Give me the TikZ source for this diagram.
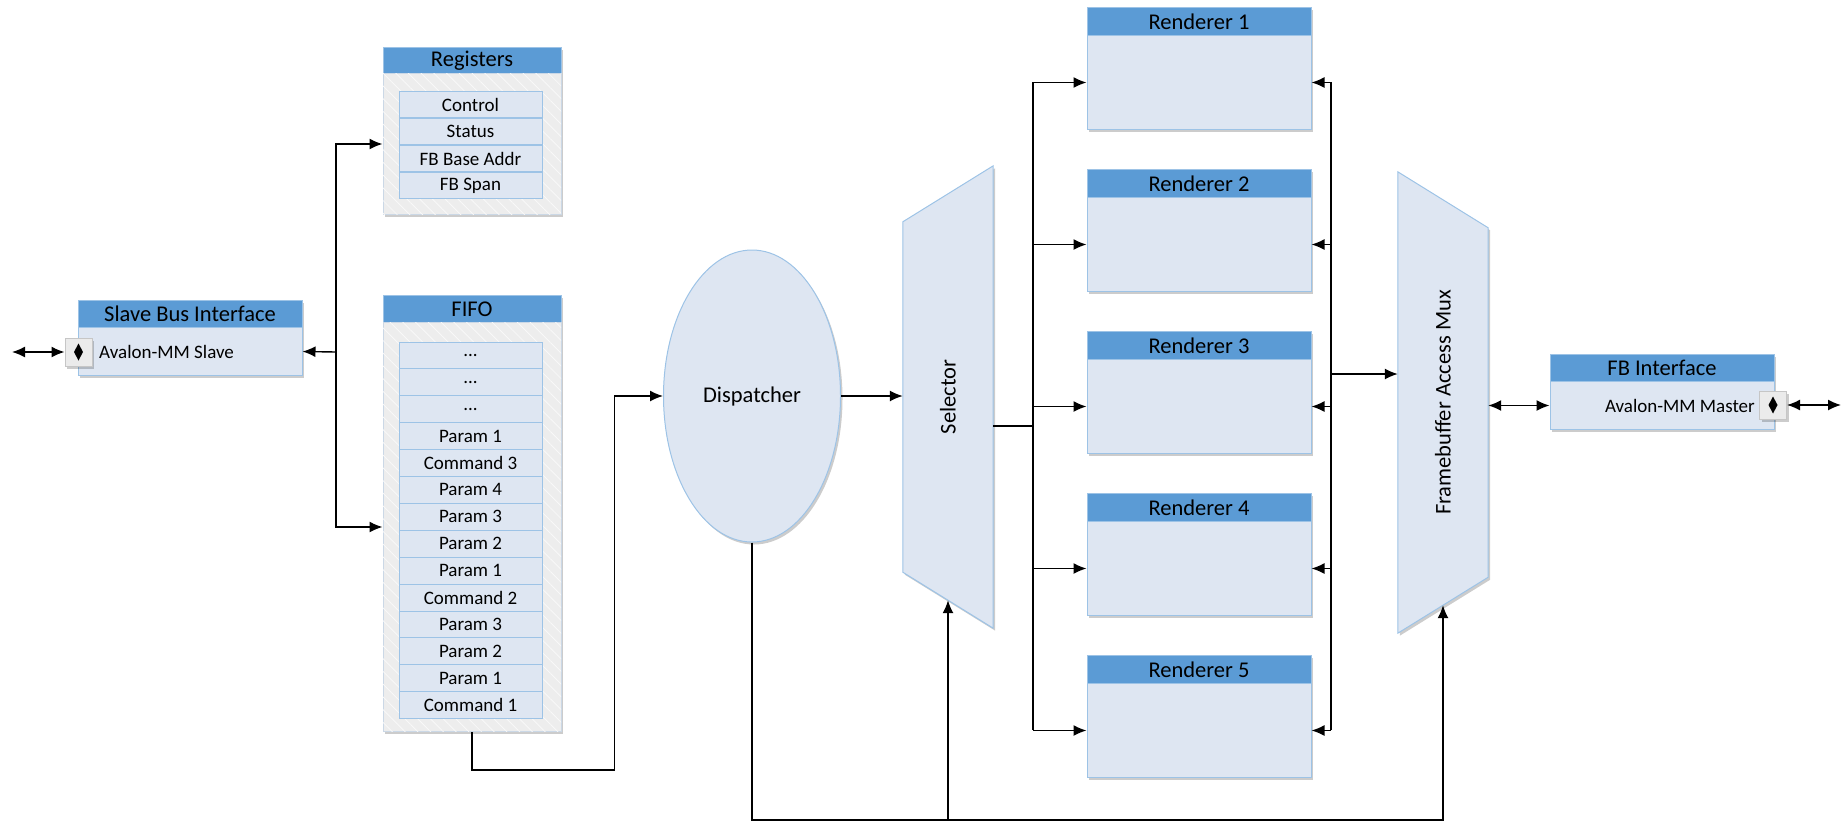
\documentclass[tikz,border=0pt]{standalone}
\usepackage{fontspec}
\setmainfont{Carlito}
\usetikzlibrary{arrows.meta,shadows,calc,shapes.geometric,backgrounds,patterns.meta}
\definecolor{hdrblue}{HTML}{5B9BD5}
\definecolor{bodyblue}{HTML}{DEE6F2}
\definecolor{edgeblue}{HTML}{9DC3E6}
\definecolor{cgray}{HTML}{EDEDED}
\definecolor{cedge}{HTML}{CBD8E6}
\definecolor{pgray}{HTML}{EBEBEB}
\begin{document}
\begin{tikzpicture}[x=1pt,y=-1pt,
  font=\fontsize{19}{22}\selectfont,
  shd/.style={drop shadow={shadow xshift=2pt,shadow yshift=-2.5pt,opacity=0.2,fill=black}},
  hdr/.style={draw=edgeblue,fill=hdrblue,line width=1pt,inner sep=0pt,anchor=north,font=\fontsize{22.5}{26}\selectfont,shd},
  body/.style={draw=edgeblue,fill=bodyblue,line width=1pt,inner sep=0pt,anchor=north,shd},
  cbody/.style={draw=cedge,fill=cgray,line width=1pt,inner sep=0pt,anchor=north,shd,
     postaction={pattern={Lines[angle=-45,distance=9pt,line width=0.7pt]},pattern color=white!70!cgray}},
  rowbox/.style={draw=edgeblue,fill=bodyblue,line width=1pt,inner sep=0pt,minimum width=143pt,minimum height=26.9pt},
  port/.style={draw=gray!45,fill=pgray,line width=1pt,minimum width=27pt,minimum height=28pt,inner sep=0pt,shd},
  arr/.style={-{Latex[length=13pt,width=11pt]},line width=1.4pt},
  darr/.style={{Latex[length=13pt,width=11pt]}-{Latex[length=13pt,width=11pt]},line width=1.4pt},
  ln/.style={line width=1.4pt},
  big/.style={font=\fontsize{22.5}{26}\selectfont}
]
\useasboundingbox (0,0) rectangle (1847,823);

% ---------- Slave Bus Interface ----------
\node[hdr,minimum width=224pt,minimum height=27pt] (sbh) at (190,300) {Slave Bus Interface};
\node[body,minimum width=224pt,minimum height=48pt] (sb) at (190,327) {};
\node[anchor=west,inner sep=0pt] (sbtxt) at (99,352) {Avalon-MM Slave};
\node[port] (sport) at (78.5,352) {};
\fill (sport.center) ++(0,-8.5) -- ++(4.5,8.5) -- ++(-4.5,8.5) -- ++(-4.5,-8.5) -- cycle;

% ---------- Registers ----------
\node[hdr,minimum width=178pt,minimum height=26pt] (regh) at (472,47) {Registers};
\node[cbody,minimum width=178pt,minimum height=141pt] (regs) at (472,73) {};
\foreach \t [count=\i from 0] in {Control,Status,FB Base Addr,FB Span}
  \node[rowbox] (reg\i) at (470.5,104.5+27*\i) {\t};

% ---------- FIFO ----------
\node[hdr,minimum width=178pt,minimum height=27pt] (fifoh) at (472,295) {FIFO};
\node[cbody,minimum width=178pt,minimum height=409pt] (fifo) at (472,322) {};
\node[rowbox] (ffa) at (470.5,355.45) {...};
\node[rowbox] (ffb) at (470.5,382.35) {...};
\node[rowbox] (ffc) at (470.5,409.25) {...};
\foreach \t [count=\i from 3] in {Param 1,Command 3,Param 4,Param 3,Param 2,Param 1,Command 2,Param 3,Param 2,Param 1,Command 1}
  \node[rowbox] (ff\i) at (470.5,355.45+26.9*\i) {\t};

% ---------- Dispatcher ----------
\node[ellipse,draw=edgeblue,fill=bodyblue,line width=1pt,minimum width=177pt,minimum height=292pt,inner sep=0pt,shd,big] (disp) at (752,396) {Dispatcher};

% ---------- Selector ----------
\node[minimum width=90pt,minimum height=350pt,inner sep=0pt,big] (sel) at (948,397) {\rotatebox{90}{Selector}};
\begin{scope}[on background layer]
\draw[draw=edgeblue,fill=bodyblue,line width=1pt,shd] (sel.south west) -- (sel.north west) -- ($(sel.north east)+(0,-56)$) -- ($(sel.south east)+(0,56)$) -- cycle;
\end{scope}

% ---------- Renderers ----------
\foreach \i in {1,...,5}{
  \node[hdr,minimum width=224pt,minimum height=28pt] (r\i h) at (1199,{7+162*(\i-1)}) {Renderer \i};
  \node[body,minimum width=224pt,minimum height=94pt] (r\i) at (1199,{35+162*(\i-1)}) {};
}

% ---------- Framebuffer Access Mux ----------
\node[minimum width=90pt,minimum height=349pt,inner sep=0pt,big] (mux) at (1443,402.5) {\rotatebox{90}{Framebuffer Access Mux}};
\begin{scope}[on background layer]
\draw[draw=edgeblue,fill=bodyblue,line width=1pt,shd] ($(mux.north west)+(0,-56)$) -- (mux.north east) -- (mux.south east) -- ($(mux.south west)+(0,56)$) -- cycle;
\end{scope}

% ---------- FB Interface ----------
\node[hdr,minimum width=224pt,minimum height=27pt] (fbh) at (1662,354) {FB Interface};
\node[body,minimum width=224pt,minimum height=48pt] (fb) at (1662,381) {};
\node[anchor=east,inner sep=0pt] (fbtxt) at (1755,406) {Avalon-MM Master};
\node[port] (fport) at (1773,405) {};
\fill (fport.center) ++(0,-8.5) -- ++(4.5,8.5) -- ++(-4.5,8.5) -- ++(-4.5,-8.5) -- cycle;

% ---------- connectors ----------
\coordinate (lend) at (12,352);
\coordinate (rend) at (1841,405);
\coordinate (j) at (336,352);
\coordinate (ltop) at (1033,82);
\coordinate (lbot) at (1033,730);
\coordinate (rtop) at (1331,82);
\coordinate (rbot) at (1331,730);
\coordinate (busR) at (1443,820);

\draw[darr] (lend) -- (sport.west);
\draw[arr] (j) -- (sb.east);
\draw[arr] (j) |- (regs.west);
\draw[arr] (j) |- (fifo.west);

\draw[arr] (fifo.south) -- ++(0,38) -| ([xshift=-48.5pt]disp.west) -- (disp.west);
\draw[arr] (disp.east) -- (disp.east -| sel.west);

\draw[ln] ([yshift=-29pt]sel.east) -- ([yshift=-29pt]sel.east -| ltop);
\draw[ln] (ltop) -- (lbot);
\draw[ln] (rtop) -- (rbot);
\foreach \i in {1,...,5}{
  \draw[arr] (ltop |- r\i.west) -- (r\i.west);
  \draw[arr] (rtop |- r\i.east) -- (r\i.east);
}
\coordinate (mxin) at ([yshift=28.5pt]mux.west);
\draw[arr] (mxin -| rtop) -- (mxin);
\draw[darr] (fb.west -| mux.east) -- (fb.west);
\draw[darr] (fport.east) -- (rend);

\draw[arr] (disp.south) |- (busR) -- ([yshift=-28pt]mux.south);
\draw[arr] (sel.south |- busR) -- ([yshift=-28pt]sel.south);
\end{tikzpicture}
\end{document}
